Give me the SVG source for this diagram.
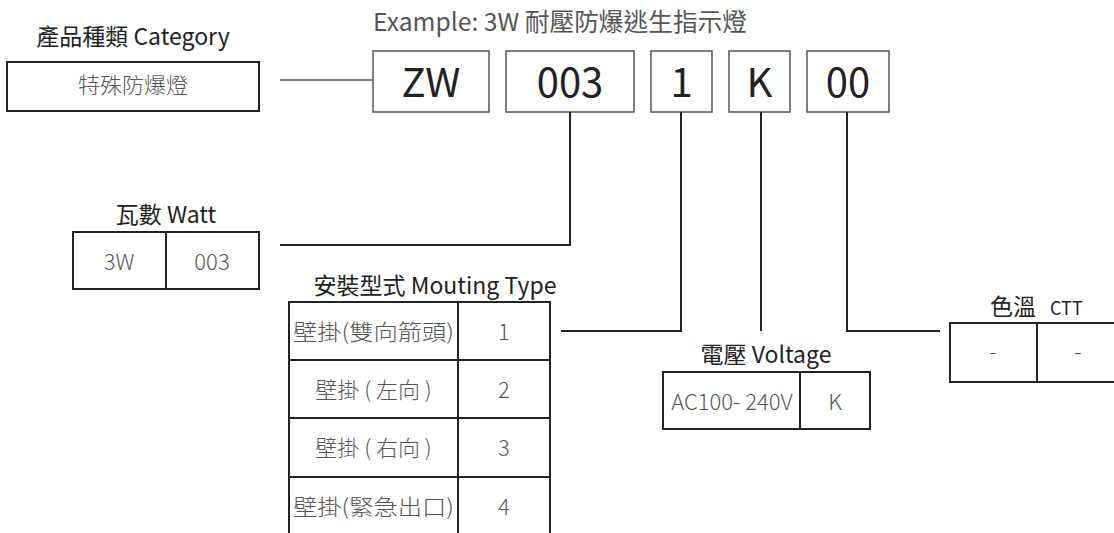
<svg xmlns="http://www.w3.org/2000/svg" width="1114" height="533" viewBox="0 0 1114 533">
<style>
text{font-family:"Noto Sans CJK TC","Noto Sans CJK SC",sans-serif}
.ttl{font-size:23px;fill:#222;text-anchor:middle}
.cell{font-size:22px;fill:#555;text-anchor:middle;font-weight:300}
.code{font-size:40px;fill:#222;text-anchor:middle}
.cbox{fill:none;stroke:#555;stroke-width:1.5}
.tbox{fill:none;stroke:#222;stroke-width:2}
.conn{fill:none;stroke:#222;stroke-width:2}
</style>
<rect width="1114" height="533" fill="#fff"/>
<text x="373" y="31" style="font-size:24.7px;fill:#555">Example: 3W 耐壓防爆逃生指示燈</text>
<g id="category">
<text class="ttl" x="133" y="45">產品種類 Category</text>
<rect class="tbox" x="7" y="62" width="252" height="49"/>
<text class="cell" x="133" y="93">特殊防爆燈</text>
</g>
<g id="code-zw"><rect class="cbox" x="373" y="51" width="116" height="61"/><text class="code" x="431" y="97">ZW</text></g>
<g id="code-003"><rect class="cbox" x="506" y="51" width="128" height="61"/><text class="code" x="570" y="97">003</text></g>
<g id="code-1"><rect class="cbox" x="651" y="51" width="61" height="61"/><text class="code" x="681.5" y="97">1</text></g>
<g id="code-k"><rect class="cbox" x="729" y="51" width="61" height="61"/><text class="code" x="759.5" y="97">K</text></g>
<g id="code-00"><rect class="cbox" x="807" y="51" width="82" height="61"/><text class="code" x="848" y="97">00</text></g>
<g id="watt">
<text class="ttl" x="166" y="223">瓦數 Watt</text>
<rect class="tbox" x="73" y="232" width="186" height="57"/>
<line class="tbox" x1="166" y1="232" x2="166" y2="289"/>
<text class="cell" x="119" y="270">3W</text>
<text class="cell" x="212" y="270">003</text>
</g>
<g id="mounting">
<text class="ttl" x="435" y="294">安裝型式 Mouting Type</text>
<path class="tbox" d="M289,533 V302 H550 V533 M458,302 V533 M289,360 H550 M289,418 H550 M289,477 H550"/>
<text class="cell" x="373.5" y="340" textLength="161" lengthAdjust="spacingAndGlyphs">壁掛(雙向箭頭)</text>
<text class="cell" x="504" y="340">1</text>
<text class="cell" x="373.5" y="398">壁掛 ( 左向 )</text>
<text class="cell" x="504" y="398">2</text>
<text class="cell" x="373.5" y="456">壁掛 ( 右向 )</text>
<text class="cell" x="504" y="456">3</text>
<text class="cell" x="373.5" y="515" textLength="161" lengthAdjust="spacingAndGlyphs">壁掛(緊急出口)</text>
<text class="cell" x="504" y="515">4</text>
</g>
<g id="voltage">
<text class="ttl" x="766" y="363">電壓 Voltage</text>
<rect class="tbox" x="663" y="372" width="207" height="57"/>
<line class="tbox" x1="800" y1="372" x2="800" y2="429"/>
<text class="cell" x="732" y="410">AC100- 240V</text>
<text class="cell" x="835" y="410">K</text>
</g>
<g id="ctt">
<text x="990" y="315" style="font-size:23px;fill:#222">色溫<tspan dx="14" style="font-size:18px">CTT</tspan></text>
<path class="tbox" d="M1116,323 H950 V382 H1116 M1037,323 V382"/>
<text class="cell" x="993" y="360">-</text>
<text class="cell" x="1078" y="360">-</text>
</g>
<g id="connectors">
<line class="cbox" x1="280" y1="80" x2="373" y2="80"/>
<polyline class="conn" points="570,112 570,245 280,245"/>
<polyline class="conn" points="681,112 681,331 561,331"/>
<polyline class="conn" points="761,112 761,331"/>
<polyline class="conn" points="847,112 847,331 940,331"/>
</g>
</svg>
